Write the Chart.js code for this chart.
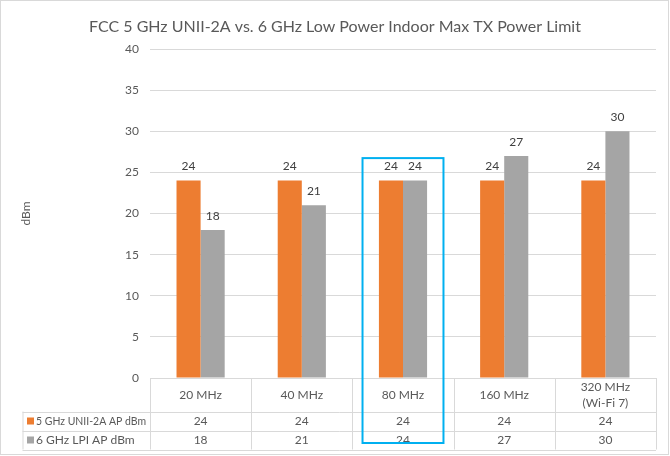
<!DOCTYPE html>
<html>
<head>
<meta charset="utf-8">
<script src="https://cdn.jsdelivr.net/npm/chart.js@4"></script>
<style>
  html, body { margin: 0; padding: 0; background: #fff; }
  #chart { display: block; }
</style>
</head>
<body>
<canvas id="chart" width="670" height="456"></canvas>
<script>
// data
const chartTitle = 'FCC 5 GHz UNII-2A vs. 6 GHz Low Power Indoor Max TX Power Limit';
const categories = [['20 MHz'], ['40 MHz'], ['80 MHz'], ['160 MHz'], ['320 MHz', '(Wi-Fi 7)']];
const seriesNames = ['5 GHz UNII-2A AP dBm', '6 GHz LPI AP dBm'];
const unii2aValues = [24, 24, 24, 24, 24];
const lpiValues = [18, 21, 24, 27, 30];
const yMin = 0;
const yMax = 40;
const yStep = 5;
const yTitle = 'dBm';
const highlightIndex = 2;

const FONT = 'Lato, "Open Sans", sans-serif';
const TEXT = '#595959';
const LINE = '#D9D9D9';
const colors = ['#ED7D31', '#A5A5A5'];

// numbers over the bars
const valueLabels = {
    id: 'valueLabels',
    afterDatasetsDraw(chart) {
        const ctx = chart.ctx;
        ctx.save();
        ctx.font = '12px ' + FONT;
        ctx.fillStyle = '#404040';
        ctx.textAlign = 'center';
        ctx.textBaseline = 'middle';
        chart.data.datasets.forEach((ds, di) => {
            chart.getDatasetMeta(di).data.forEach((bar, i) => {
                ctx.fillText(ds.data[i], bar.x, bar.y - 14);
            });
        });
        ctx.restore();
    }
};

// excel style data table under the plot, plus the blue box and outer frame
const dataTable = {
    id: 'dataTable',
    afterDraw(chart) {
        const { ctx, chartArea } = chart;
        const x = chart.scales.x;
        const n = categories.length;
        const colW = chartArea.width / n;
        const top = chartArea.bottom;
        const headH = 33.5;
        const rowH = 19;
        const r1 = top + headH;
        const r2 = r1 + rowH;
        const r3 = r2 + rowH;
        const labelLeft = 22.5;

        ctx.save();
        ctx.strokeStyle = LINE;
        ctx.lineWidth = 1;
        ctx.beginPath();
        // horizontal lines
        ctx.moveTo(chartArea.left, top + 0.5); ctx.lineTo(chartArea.right, top + 0.5);
        [r1, r2, r3].forEach(yy => {
            ctx.moveTo(labelLeft, Math.round(yy) + 0.5);
            ctx.lineTo(chartArea.right, Math.round(yy) + 0.5);
        });
        // vertical lines
        for (let i = 0; i <= n; i++) {
            const xx = Math.round(chartArea.left + i * colW) + 0.5;
            ctx.moveTo(xx, top); ctx.lineTo(xx, r3);
        }
        ctx.moveTo(labelLeft + 0.5, r1); ctx.lineTo(labelLeft + 0.5, r3);
        ctx.stroke();

        ctx.font = '12px ' + FONT;
        ctx.fillStyle = TEXT;
        ctx.textAlign = 'center';
        ctx.textBaseline = 'middle';
        categories.forEach((lines, i) => {
            const cx = x.getPixelForValue(i);
            const cy = top + headH / 2 + 0.5;
            lines.forEach((t, k) => {
                ctx.fillText(t, cx, cy + (k - (lines.length - 1) / 2) * 16);
            });
            chart.data.datasets.forEach((ds, di) => {
                ctx.fillText(ds.data[i], cx, r1 + rowH * di + rowH / 2);
            });
        });

        // row headers with colour keys
        ctx.textAlign = 'left';
        chart.data.datasets.forEach((ds, di) => {
            const cy = r1 + rowH * di + rowH / 2;
            ctx.fillStyle = ds.backgroundColor;
            ctx.fillRect(27, cy - 3.5, 7, 7);
            ctx.fillStyle = TEXT;
            ctx.fillText(ds.label, 36, cy, chartArea.left - 40);
        });

        // blue highlight around one category
        const hx = x.getPixelForValue(highlightIndex);
        const barTop = chart.scales.y.getPixelForValue(Math.max(unii2aValues[highlightIndex], lpiValues[highlightIndex]));
        ctx.strokeStyle = '#00B0F0';
        ctx.lineWidth = 2;
        ctx.strokeRect(hx - colW * 0.4, barTop - 22.5, colW * 0.8, r3 - 6.5 - (barTop - 22.5));

        // chart frame
        ctx.strokeStyle = LINE;
        ctx.lineWidth = 1;
        ctx.strokeRect(0.5, 0.5, 668, 454);
        ctx.restore();
    }
};

const data = {
    labels: categories,
    datasets: [
        { label: seriesNames[0], data: unii2aValues, backgroundColor: colors[0] },
        { label: seriesNames[1], data: lpiValues, backgroundColor: colors[1] }
    ]
};

const config = {
    type: 'bar',
    data: data,
    options: {
        responsive: false,
        animation: false,
        devicePixelRatio: 1,
        datasets: { bar: { categoryPercentage: 0.476, barPercentage: 1 } },
        layout: { padding: { left: 14, right: 14, top: 0, bottom: 78 } },
        plugins: {
            legend: { display: false },
            tooltip: { enabled: false },
            title: {
                display: true,
                text: chartTitle,
                color: TEXT,
                font: { family: FONT, size: 16, weight: 'normal' },
                padding: { top: 17.4, bottom: 12.4 }
            }
        },
        scales: {
            x: { display: false },
            y: {
                min: yMin,
                max: yMax,
                ticks: { stepSize: yStep, color: TEXT, font: { family: FONT, size: 12 }, padding: 11 },
                grid: { color: LINE, drawTicks: false },
                border: { display: false },
                title: { display: true, text: yTitle, color: TEXT, font: { family: FONT, size: 12 }, padding: { top: 5, bottom: 0 } },
                afterFit(scale) { scale.width = 136; }
            }
        }
    },
    plugins: [valueLabels, dataTable]
};

const chart = new Chart(document.getElementById('chart'), config);
</script>
</body>
</html>
